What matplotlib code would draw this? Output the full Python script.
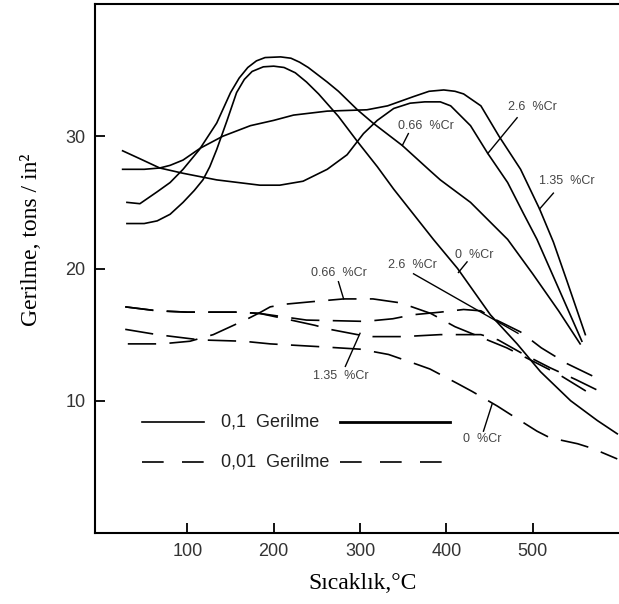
import matplotlib.pyplot as plt

# values: temperature (C) vs stress (tons/in^2)
# 0,1 Gerilme (solid)
x_s0 = [30, 50, 65, 80, 95, 108, 118, 126, 134, 146, 157, 166, 175, 188, 200, 212, 225, 238, 252, 275, 297, 320, 339, 362, 385, 413, 451, 482, 509, 544, 575, 598]
y_s0 = [23.4, 23.4, 23.6, 24.1, 25.0, 25.9, 26.7, 27.7, 29.0, 31.2, 33.3, 34.3, 34.9, 35.25, 35.3, 35.2, 34.8, 34.1, 33.2, 31.5, 29.6, 27.7, 26.0, 24.1, 22.2, 20.0, 16.5, 14.3, 12.2, 10.0, 8.5, 7.5]

x_s066 = [30, 45, 65, 80, 95, 114, 134, 150, 160, 170, 180, 190, 208, 220, 230, 240, 250, 262, 275, 297, 315, 349, 381, 393, 428, 471, 500, 530, 555]
y_s066 = [25.0, 24.9, 25.8, 26.5, 27.5, 29.0, 31.0, 33.3, 34.4, 35.2, 35.7, 35.95, 36.0, 35.9, 35.6, 35.2, 34.7, 34.1, 33.4, 32.0, 31.0, 29.3, 27.4, 26.7, 25.0, 22.2, 19.6, 16.8, 14.3]

x_s135 = [25, 50, 68, 80, 95, 115, 141, 173, 200, 223, 262, 308, 332, 362, 380, 397, 410, 420, 440, 461, 486, 508, 524, 540, 561]
y_s135 = [27.5, 27.5, 27.6, 27.8, 28.2, 29.1, 30.0, 30.8, 31.2, 31.6, 31.9, 32.0, 32.3, 33.0, 33.4, 33.5, 33.4, 33.2, 32.3, 30.0, 27.5, 24.5, 22.0, 19.0, 15.0]

x_s26 = [25, 45, 68, 95, 134, 184, 207, 234, 262, 285, 304, 320, 339, 358, 375, 393, 405, 428, 448, 471, 489, 505, 530, 557]
y_s26 = [28.9, 28.3, 27.6, 27.2, 26.7, 26.3, 26.3, 26.6, 27.5, 28.6, 30.2, 31.2, 32.1, 32.5, 32.6, 32.6, 32.3, 30.8, 28.7, 26.5, 24.2, 22.2, 18.5, 14.5]

# 0,01 Gerilme (dashed)
x_d0 = [28, 65, 115, 165, 196, 250, 300, 333, 366, 381, 413, 430, 459, 477, 505, 520, 552, 569, 598]
y_d0 = [15.4, 15.0, 14.6, 14.5, 14.3, 14.1, 13.9, 13.5, 12.75, 12.4, 11.3, 10.7, 9.6, 8.85, 7.7, 7.2, 6.75, 6.4, 5.6]

x_d066 = [31, 70, 103, 130, 150, 170, 185, 196, 213, 246, 281, 315, 347, 382, 410, 440, 470, 500, 530, 560, 572]
y_d066 = [14.3, 14.3, 14.5, 15.0, 15.6, 16.2, 16.7, 17.1, 17.3, 17.5, 17.7, 17.7, 17.4, 16.6, 15.6, 14.8, 14.0, 13.0, 12.0, 10.8, 10.3]

x_d135 = [28, 65, 100, 160, 184, 213, 248, 265, 297, 315, 350, 393, 440, 460, 490, 520, 550, 575]
y_d135 = [17.1, 16.8, 16.7, 16.7, 16.6, 16.2, 15.7, 15.4, 15.0, 14.85, 14.85, 15.0, 15.0, 14.6, 13.5, 12.5, 11.6, 10.8]

x_d26 = [28, 65, 100, 160, 184, 238, 273, 306, 338, 361, 393, 420, 440, 455, 486, 510, 540, 578]
y_d26 = [17.1, 16.8, 16.7, 16.7, 16.6, 16.1, 16.05, 16.0, 16.2, 16.5, 16.7, 16.9, 16.8, 16.2, 15.2, 14.0, 12.8, 11.6]

x_ticks = [100, 200, 300, 400, 500]
y_ticks = [10, 20, 30]

# curve labels: text, text centre, leader start, leader end
labels = [
    ("2.6  %Cr", (500, 32.2), (482, 31.4), (448, 28.7)),
    ("1.35  %Cr", (540, 26.6), (524, 25.7), (508, 24.5)),
    ("0.66  %Cr", (376, 30.75), (356, 30.2), (349, 29.3)),
    ("0  %Cr", (432, 21.0), (424, 20.5), (414, 19.7)),
    ("2.6  %Cr", (361, 20.3), (362, 19.6), (483, 15.1)),
    ("0.66  %Cr", (276, 19.65), (275, 19.0), (281, 17.7)),
    ("1.35  %Cr", (278, 11.85), (283, 12.6), (300, 15.1)),
    ("0  %Cr", (442, 7.1), (443, 7.7), (453, 9.75)),
]

fig = plt.figure(figsize=(6.19, 6.04), dpi=100)
ax = fig.add_axes([95 / 619, 71 / 604, 524 / 619, 529 / 604])

lw = 1.2
dash = (0, (17, 8))
for x, y in [(x_s0, y_s0), (x_s066, y_s066), (x_s135, y_s135), (x_s26, y_s26)]:
    ax.plot(x, y, color="black", lw=lw, solid_joinstyle="round")
for x, y in [(x_d0, y_d0), (x_d066, y_d066), (x_d135, y_d135), (x_d26, y_d26)]:
    ax.plot(x, y, color="black", lw=lw, linestyle=dash)

for txt, pos, p0, p1 in labels:
    ax.text(pos[0], pos[1], txt, ha="center", va="center", fontsize=9,
            color="#444444", family="Liberation Sans")
    ax.plot([p0[0], p1[0]], [p0[1], p1[1]], color="black", lw=1.0)

# hand drawn legend inside the axes
tr = ax.transAxes
ax.plot([0.090, 0.208], [0.210, 0.210], color="black", lw=1.2, transform=tr)
ax.plot([0.468, 0.677], [0.210, 0.210], color="black", lw=2.0, transform=tr)
ax.text(0.240, 0.210, "0,1  Gerilme", transform=tr, va="center", ha="left",
        fontsize=13, family="Liberation Sans", color="#222222")
ax.plot([0.090, 0.208], [0.134, 0.134], color="black", lw=1.2,
        linestyle=(0, (13, 11)), transform=tr)
ax.plot([0.468, 0.677], [0.134, 0.134], color="black", lw=1.2,
        linestyle=(0, (13, 11)), transform=tr)
ax.text(0.240, 0.134, "0,01  Gerilme", transform=tr, va="center", ha="left",
        fontsize=13, family="Liberation Sans", color="#222222")

ax.set_xlim(-7, 600)
ax.set_ylim(0, 40)
ax.set_xticks(x_ticks)
ax.set_yticks(y_ticks)
ax.tick_params(direction="in", length=7, width=1.3, labelsize=13, pad=7,
               labelcolor="#333333")
for lab in ax.get_xticklabels() + ax.get_yticklabels():
    lab.set_family("Liberation Sans")
ax.spines["right"].set_visible(False)
for s in ["left", "bottom", "top"]:
    ax.spines[s].set_linewidth(1.5)

ax.set_xlabel("Sıcaklık,°C", family="Liberation Serif", fontsize=17)
ax.xaxis.set_label_coords(0.511, -0.076)
ax.set_ylabel("Gerilme, tons / in²", family="Liberation Serif", fontsize=17)
ax.yaxis.set_label_coords(-0.101, 0.554)

fig.savefig("out.png", dpi=100)
